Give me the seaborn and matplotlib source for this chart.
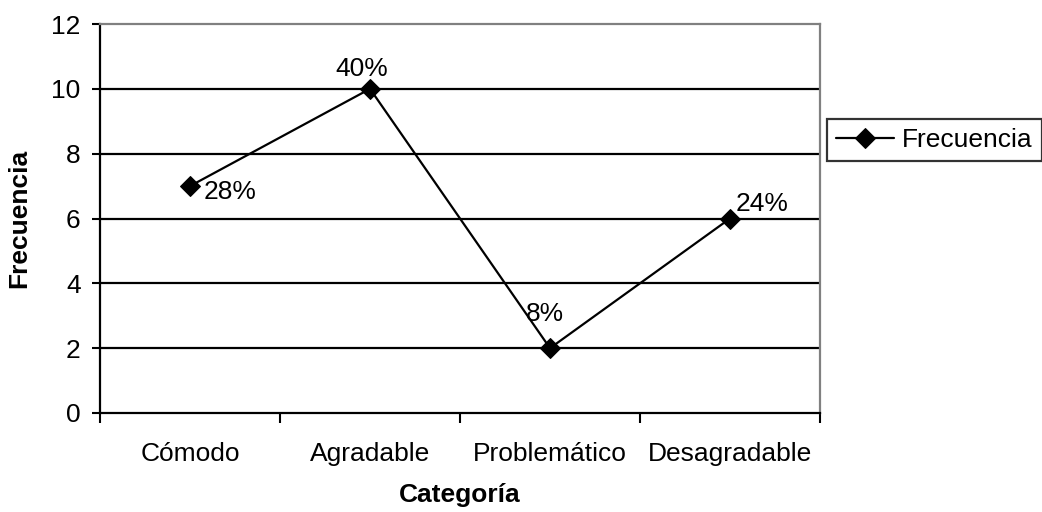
import numpy as np
import pandas as pd
import matplotlib
matplotlib.use("Agg")
import matplotlib.pyplot as plt
import seaborn as sns

# datos del grafico
categorias = ["Cómodo", "Agradable", "Problemático", "Desagradable"]
frecuencia = [7, 10, 2, 6]
y_ticks = [0, 2, 4, 6, 8, 10, 12]
serie_nombre = "Frecuencia"

sns.set_theme(style="white")
plt.rcParams['font.family'] = ['Liberation Sans', 'DejaVu Sans']
plt.rcParams['text.color'] = 'black'
plt.rcParams['axes.labelcolor'] = 'black'
plt.rcParams['xtick.color'] = 'black'
plt.rcParams['ytick.color'] = 'black'

df = pd.DataFrame({"Categoría": categorias, "Frecuencia": frecuencia})
total = sum(frecuencia)
porcentajes = [f"{round(v / total * 100)}%" for v in frecuencia]

fs = 19

fig = plt.figure(figsize=(10.42, 5.12), dpi=100)
ax = fig.add_axes([100 / 1042, 1 - 413 / 512, 720 / 1042, 389 / 512])

sns.lineplot(data=df, x="Categoría", y="Frecuencia", marker="D", markersize=10,
             color="black", linewidth=1.6, markeredgecolor="black",
             label=serie_nombre, ax=ax, legend=False, sort=False)

ax.set_xlim(-0.5, len(categorias) - 0.5)
ax.set_ylim(0, 12)
ax.set_yticks(y_ticks)

# gridlines negras horizontales
for t in y_ticks[1:-1]:
    ax.axhline(t, color="black", linewidth=1.6, zorder=0)

ax.set_xticks(range(len(categorias)))
ax.set_xticklabels(categorias)
ax.set_xticks(np.arange(-0.5, len(categorias), 1.0), minor=True)
ax.tick_params(axis="x", which="major", length=0, pad=21, labelsize=fs)
ax.tick_params(axis="x", which="minor", length=7, width=1.5, direction="out", bottom=True)
ax.tick_params(axis="y", length=6, width=1.5, direction="out", pad=8, labelsize=fs, left=True)

for s in ["left", "bottom"]:
    ax.spines[s].set_color("black")
    ax.spines[s].set_linewidth(1.6)
for s in ["top", "right"]:
    ax.spines[s].set_color("#808080")
    ax.spines[s].set_linewidth(1.6)

# etiquetas de porcentaje
offsets = [(10, -4, "left", "center"), (-6, 6, "center", "bottom"),
           (-4, 16, "center", "bottom"), (4, 2, "left", "bottom")]
for i, (v, txt) in enumerate(zip(frecuencia, porcentajes)):
    dx, dy, ha, va = offsets[i]
    ax.annotate(txt, (i, v), xytext=(dx, dy), textcoords="offset points",
                ha=ha, va=va, fontsize=fs, color="black")

ax.set_xlabel("Categoría", fontsize=fs, fontweight="bold", labelpad=12)
ax.set_ylabel("Frecuencia", fontsize=fs, fontweight="bold", labelpad=14)

h, l = ax.get_legend_handles_labels()
leg = fig.legend(h, l, loc="center left", bbox_to_anchor=(827 / 1042, 1 - 140 / 512),
                 frameon=True, fancybox=False, edgecolor="black", fontsize=fs,
                 handlelength=2.2, handletextpad=0.3, borderpad=0.35, borderaxespad=0)
leg.get_frame().set_linewidth(1.6)

fig.savefig("out.png", dpi=100)
